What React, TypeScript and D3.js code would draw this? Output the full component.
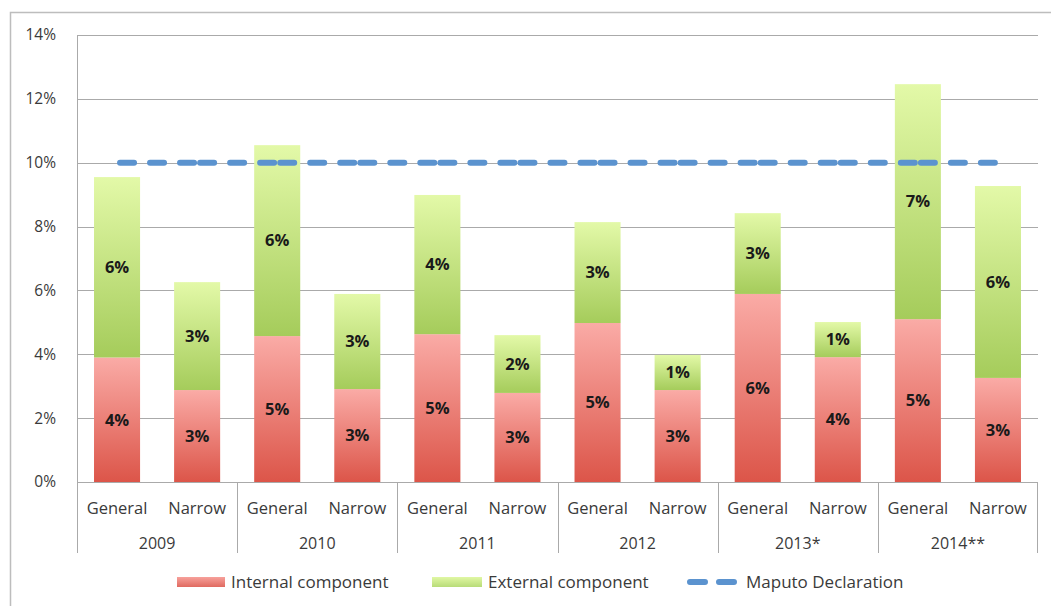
import React from "react";
import * as d3 from "d3";

const years = ["2009", "2010", "2011", "2012", "2013*", "2014**"];
const types = ["General", "Narrow"];
const internalValues = [3.9, 2.88, 4.57, 2.91, 4.63, 2.79, 4.98, 2.88, 5.89, 3.91, 5.1, 3.26];
const externalValues = [5.65, 3.38, 5.98, 2.98, 4.36, 1.81, 3.16, 1.1, 2.53, 1.1, 7.36, 6.01];
const maputoValue = 10;
const yTicks = [0, 2, 4, 6, 8, 10, 12, 14];
const legendLabels = ["Internal component", "External component", "Maputo Declaration"];

const W = 1051;
const H = 606;
const plot = { left: 77, right: 1038, top: 35, bottom: 482 };
const FONT = "'Open Sans', 'DejaVu Sans', sans-serif";
const TEXT = "#3a3a3a";

export default function App() {
  const keys = years.flatMap((y) => types.map((t) => `${y}|${t}`));
  const x = d3
    .scaleBand<string>()
    .domain(keys)
    .range([plot.left, plot.right])
    .paddingInner(0.425)
    .paddingOuter(0.2125);
  const y = d3.scaleLinear().domain([0, 14]).range([plot.bottom, plot.top]);
  const step = x.step();
  const groupW = step * types.length;
  const centers = keys.map((k) => (x(k) as number) + x.bandwidth() / 2);

  const segs: [number, number][] = [];
  for (let i = 0; i < centers.length - 1; i++) segs.push([centers[i], centers[i + 1]]);

  return (
    <svg
      width={W}
      height={H}
      style={{ position: "absolute", left: 0, top: 0, background: "#fff" }}
      fontFamily={FONT}
    >
      <defs>
        <linearGradient id="gRed" x1="0" y1="0" x2="0" y2="1">
          <stop offset="0" stopColor="#faaba6" />
          <stop offset="1" stopColor="#dc5549" />
        </linearGradient>
        <linearGradient id="gGreen" x1="0" y1="0" x2="0" y2="1">
          <stop offset="0" stopColor="#e3f9a8" />
          <stop offset="1" stopColor="#a5cc5b" />
        </linearGradient>
        <linearGradient id="gRedL" x1="0" y1="0" x2="0" y2="1">
          <stop offset="0" stopColor="#f7a19b" />
          <stop offset="1" stopColor="#e06a60" />
        </linearGradient>
        <linearGradient id="gGreenL" x1="0" y1="0" x2="0" y2="1">
          <stop offset="0" stopColor="#e0f7a4" />
          <stop offset="1" stopColor="#b8dc78" />
        </linearGradient>
      </defs>
      {/* outer border */}
      <rect x={10.5} y={12.5} width={W + 20} height={H + 20} fill="none" stroke="#bdbdbd" strokeWidth={1.5} />

      {/* gridlines */}
      {yTicks.map((t) => (
        <line
          key={"g" + t}
          x1={plot.left}
          x2={plot.right}
          y1={Math.round(y(t)) + 0.5}
          y2={Math.round(y(t)) + 0.5}
          stroke="#aaaaaa"
          strokeWidth={1}
        />
      ))}
      {/* y axis line */}
      <line x1={plot.left + 0.5} x2={plot.left + 0.5} y1={plot.top} y2={plot.bottom} stroke="#aaaaaa" />
      {/* y tick labels */}
      {yTicks.map((t) => (
        <text
          key={"t" + t}
          x={56}
          y={y(t)}
          dy="0.35em"
          textAnchor="end"
          fontSize={15.5}
          fill={TEXT}
        >
          {t + "%"}
        </text>
      ))}

      {/* bars */}
      {keys.map((k, i) => {
        const x0 = x(k) as number;
        const bw = x.bandwidth();
        const a = internalValues[i];
        const b = externalValues[i];
        return (
          <g key={k}>
            <rect x={x0} y={y(a)} width={bw} height={y(0) - y(a)} fill="url(#gRed)" />
            <rect x={x0} y={y(a + b)} width={bw} height={y(a) - y(a + b)} fill="url(#gGreen)" />
          </g>
        );
      })}

      {/* Maputo dashed line: pattern restarts on every segment */}
      {segs.map(([a, b], i) => (
        <line
          key={"m" + i}
          x1={a}
          x2={b}
          y1={y(maputoValue)}
          y2={y(maputoValue)}
          stroke="#5b93cf"
          strokeWidth={6}
          strokeLinecap="round"
          strokeDasharray="14 16"
          strokeDashoffset={27}
        />
      ))}

      {/* data labels */}
      {keys.map((k, i) => {
        const cx = centers[i];
        const a = internalValues[i];
        const b = externalValues[i];
        return (
          <g key={"l" + k} fontSize={16.5} fontWeight="bold" fill="#1a1a1a" textAnchor="middle">
            <text x={cx} y={y(a / 2)} dy="0.35em">
              {Math.round(a) + "%"}
            </text>
            <text x={cx} y={y(a + b / 2)} dy="0.35em">
              {Math.round(b) + "%"}
            </text>
          </g>
        );
      })}

      {/* category axis */}
      <line x1={plot.left} x2={plot.right} y1={plot.bottom + 0.5} y2={plot.bottom + 0.5} stroke="#aaaaaa" />
      {years.map((yr, g) => {
        const gx = plot.left + g * groupW;
        return (
          <g key={"y" + yr}>
            <line x1={Math.round(gx) + 0.5} x2={Math.round(gx) + 0.5} y1={plot.bottom} y2={553} stroke="#aaaaaa" />
            <text x={gx + groupW / 2} y={543} dy="0.35em" textAnchor="middle" fontSize={16} fill={TEXT}>
              {yr}
            </text>
          </g>
        );
      })}
      <line x1={plot.right - 0.5} x2={plot.right - 0.5} y1={plot.bottom} y2={553} stroke="#aaaaaa" />
      {keys.map((k, i) => (
        <text key={"c" + k} x={centers[i]} y={508} dy="0.35em" textAnchor="middle" fontSize={16.5} fill={TEXT}>
          {k.split("|")[1]}
        </text>
      ))}

      {/* legend */}
      <g fontSize={17} fill={TEXT}>
        <rect x={177} y={577} width={48} height={10} fill="url(#gRedL)" />
        <text x={231} y={582} dy="0.35em">
          {legendLabels[0]}
        </text>
        <rect x={432} y={577} width={50} height={10} fill="url(#gGreenL)" />
        <text x={488} y={582} dy="0.35em">
          {legendLabels[1]}
        </text>
        <line
          x1={687}
          x2={738}
          y1={582}
          y2={582}
          stroke="#5b93cf"
          strokeWidth={6}
          strokeLinecap="round"
          strokeDasharray="15 14"
          strokeDashoffset={-3}
        />
        <text x={746} y={582} dy="0.35em">
          {legendLabels[2]}
        </text>
      </g>
    </svg>
  );
}
